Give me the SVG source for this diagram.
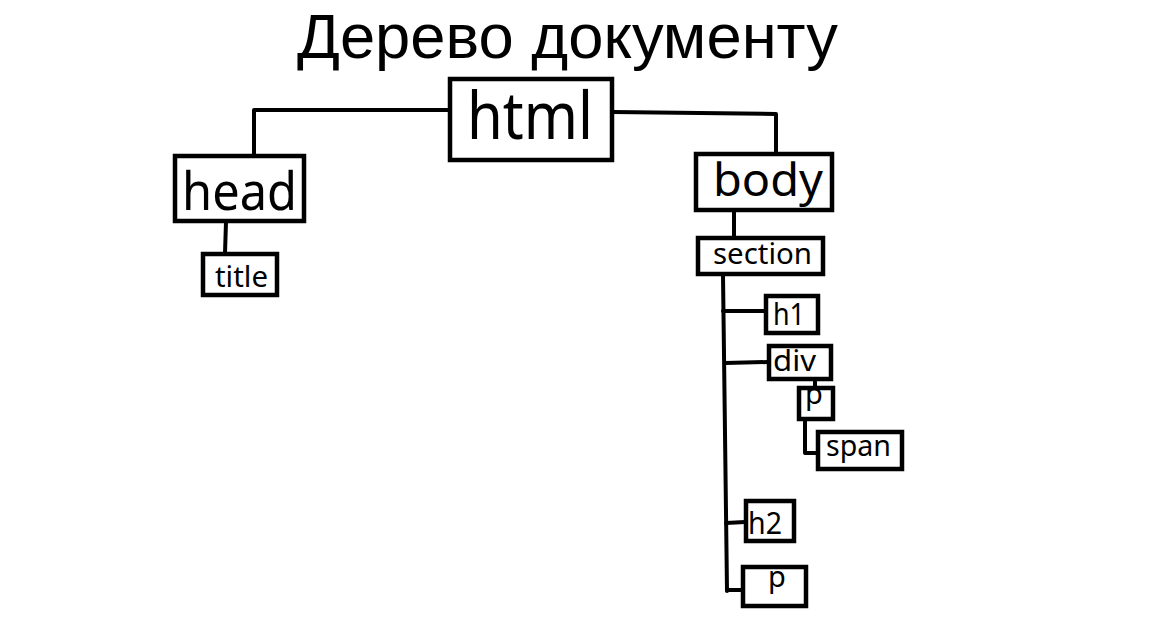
<svg xmlns="http://www.w3.org/2000/svg" width="1176" height="642" viewBox="0 0 1176 642">
<style>
.box{fill:#fff;stroke:#000;stroke-width:4.5}
.t{font-family:"Noto Sans","Open Sans","DejaVu Sans",sans-serif;fill:#000}
.h{font-family:"Liberation Sans","Arial",sans-serif;fill:#000}
.c{fill:none;stroke:#000;stroke-width:4;stroke-linecap:round;stroke-linejoin:round}
</style>
<rect width="1176" height="642" fill="#fff"/>
<text class="h" x="297" y="58" font-size="63" textLength="541" lengthAdjust="spacingAndGlyphs">Дерево документу</text>
<g id="connectors">
<polyline class="c" points="448,110 254,110 254,155"/>
<polyline class="c" points="613,112 776,114 776,153"/>
<line class="c" x1="226" y1="222" x2="225" y2="253"/>
<line class="c" x1="734" y1="211" x2="734" y2="237"/>
<line class="c" x1="723" y1="275" x2="727" y2="591"/>
<line class="c" x1="723" y1="311" x2="766" y2="311"/>
<line class="c" x1="725" y1="363" x2="768" y2="362"/>
<line class="c" x1="815" y1="377" x2="815" y2="388"/>
<polyline class="c" points="805,420 805,453 817,453"/>
<line class="c" x1="726" y1="523" x2="745" y2="522"/>
<line class="c" x1="727" y1="590" x2="742" y2="590"/>
</g>
<g id="html">
<rect class="box" x="450" y="79" width="162" height="81"/>
<text class="t" x="467" y="139" font-size="66" textLength="126" lengthAdjust="spacingAndGlyphs">html</text>
</g>
<g id="head">
<rect class="box" x="175" y="156" width="129" height="65"/>
<text class="t" x="182" y="210" font-size="52" textLength="115" lengthAdjust="spacingAndGlyphs">head</text>
</g>
<g id="title">
<rect class="box" x="203" y="254" width="74" height="41"/>
<text class="t" x="215" y="287" font-size="29" textLength="53" lengthAdjust="spacingAndGlyphs">title</text>
</g>
<g id="body">
<rect class="box" x="696" y="154" width="136" height="56"/>
<text class="t" x="713" y="196" font-size="46" textLength="110" lengthAdjust="spacingAndGlyphs">body</text>
</g>
<g id="section">
<rect class="box" x="698" y="238" width="125" height="36"/>
<text class="t" x="713" y="264" font-size="29" textLength="99" lengthAdjust="spacingAndGlyphs">section</text>
</g>
<g id="h1">
<rect class="box" x="766" y="296" width="52" height="37"/>
<text class="t" x="773" y="325" font-size="30" textLength="32" lengthAdjust="spacingAndGlyphs">h1</text>
</g>
<g id="div">
<rect class="box" x="769" y="346" width="62" height="33"/>
<text class="t" x="773" y="371" font-size="29" textLength="43" lengthAdjust="spacingAndGlyphs">div</text>
</g>
<g id="p1">
<rect class="box" x="799" y="388" width="34" height="31"/>
<text class="t" x="805" y="404" font-size="29">p</text>
</g>
<g id="span">
<rect class="box" x="818" y="432" width="84" height="37"/>
<text class="t" x="826" y="456" font-size="29" textLength="65" lengthAdjust="spacingAndGlyphs">span</text>
</g>
<g id="h2">
<rect class="box" x="746" y="501" width="48" height="40"/>
<text class="t" x="748" y="534" font-size="30" textLength="34" lengthAdjust="spacingAndGlyphs">h2</text>
</g>
<g id="p2">
<rect class="box" x="743" y="567" width="63" height="39"/>
<text class="t" x="768" y="587" font-size="29">p</text>
</g>
</svg>
